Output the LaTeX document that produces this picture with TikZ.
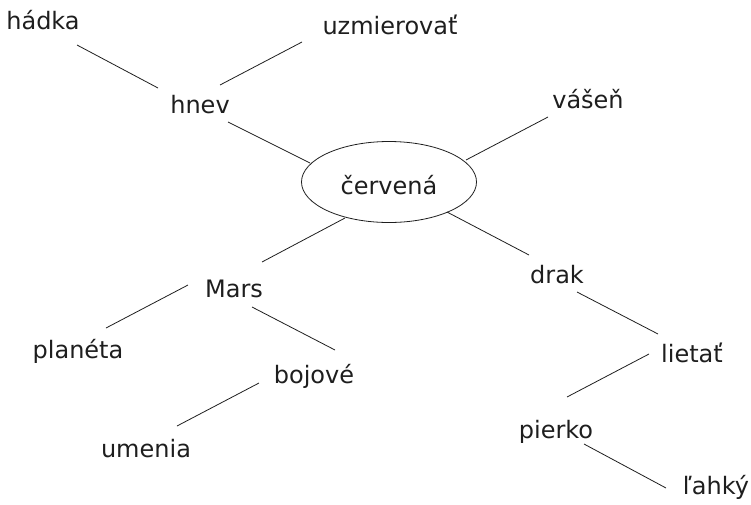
\documentclass[tikz,border=0pt]{standalone}
\usepackage{fontspec}
\setmainfont{DejaVu Sans}
\usetikzlibrary{shapes.geometric}
\definecolor{ink}{HTML}{1E1E1E}
\tikzset{
  word/.style={anchor=base, inner sep=0pt, text=ink, font=\fontsize{24}{28}\selectfont},
  hub/.style={ellipse, draw=ink, line width=0.8pt, minimum width=175pt, minimum height=81pt, inner sep=0pt,
    text height=24pt, text depth=0pt, text=ink, font=\fontsize{24}{28}\selectfont},
  link/.style={draw=ink, line width=0.8pt}
}
\begin{document}
\begin{tikzpicture}[x=1pt,y=-1pt]
\useasboundingbox (0,0) rectangle (751,504);
\node[hub] (cerv) at (389,182) {červená};
\node[word] (hadka) at (43,29) {hádka};
\node[word] (uzm) at (390,34) {uzmierovať};
\node[word] (hnev) at (200,113) {hnev};
\node[word] (vasen) at (588,108) {vášeň};
\node[word] (drak) at (557,283) {drak};
\node[word] (mars) at (234,297) {Mars};
\node[word] (planeta) at (78,358) {planéta};
\node[word] (bojove) at (314,383) {bojové};
\node[word] (umenia) at (146,457) {umenia};
\node[word] (lietat) at (692,362) {lietať};
\node[word] (pierko) at (556,438) {pierko};
\node[word] (lahky) at (716,494) {ľahký};

\draw[link] ([shift={(34,16)}]hadka.base) -- ([shift={(-42,-25)}]hnev.base);
\draw[link] ([shift={(-88,8)}]uzm.base) -- ([shift={(20,-28)}]hnev.base);
\draw[link] ([shift={(28,9)}]hnev.base) -- ([shift={(-79,-19)}]cerv.center);
\draw[link] ([shift={(77,-22)}]cerv.center) -- ([shift={(-40,9)}]vasen.base);
\draw[link] ([shift={(58,30)}]cerv.center) -- ([shift={(-28,-28)}]drak.base);
\draw[link] ([shift={(-44,36)}]cerv.center) -- ([shift={(28,-35)}]mars.base);
\draw[link] ([shift={(-46,-12)}]mars.base) -- ([shift={(28,-30)}]planeta.base);
\draw[link] ([shift={(18,10)}]mars.base) -- ([shift={(21,-33)}]bojove.base);
\draw[link] ([shift={(-55,0)}]bojove.base) -- ([shift={(31,-31)}]umenia.base);
\draw[link] ([shift={(20,9)}]drak.base) -- ([shift={(-34,-28)}]lietat.base);
\draw[link] ([shift={(-43,-8)}]lietat.base) -- ([shift={(11,-41)}]pierko.base);
\draw[link] ([shift={(28,6)}]pierko.base) -- ([shift={(-50,-6)}]lahky.base);
\end{tikzpicture}
\end{document}
